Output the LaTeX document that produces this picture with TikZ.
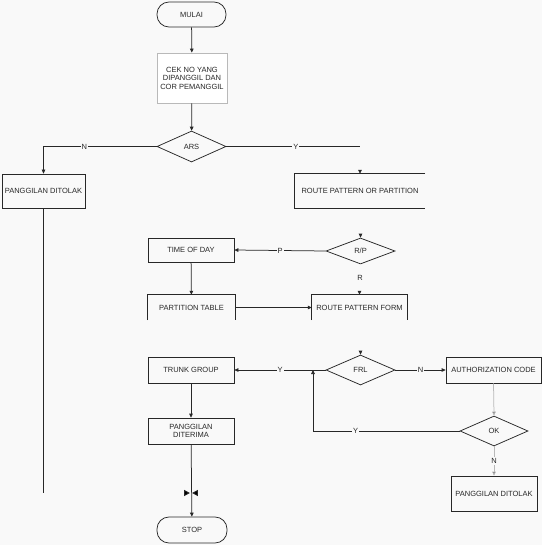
\documentclass[tikz,border=0pt]{standalone}
\usepackage{fontspec}
\setmainfont{Liberation Sans}
\usetikzlibrary{shapes.geometric,arrows.meta,calc}
\definecolor{bg}{RGB}{249,249,249}
\definecolor{ln}{RGB}{40,40,40}
\definecolor{lg}{RGB}{185,185,185}
\begin{document}
\begin{tikzpicture}[x=1pt,y=-1pt,
  every node/.style={font=\fontsize{7.5}{8.5}\selectfont, text=ln},
  arr/.style={draw=ln, line width=0.75pt, -{Triangle[width=3.6pt,length=4pt]}},
  ln/.style={draw=ln, line width=0.75pt},
  lgarr/.style={draw=lg, line width=0.75pt, -{Triangle[width=3.6pt,length=4pt,fill=ln]}},
  boxx/.style={draw=ln, line width=0.75pt, rectangle, inner sep=1pt, align=center},
  openbox/.style={rectangle, inner sep=1pt, align=center},
  term/.style={draw=ln, line width=0.75pt, rectangle, rounded corners=12pt, minimum width=69pt, minimum height=25pt},
  dec/.style={draw=ln, line width=0.75pt, diamond, aspect=2.3, inner sep=0pt},
  lab/.style={fill=bg, inner sep=1pt}
]
\fill[bg] (0,0) rectangle (542,545);
\useasboundingbox (0,0) rectangle (542,545);

% nodes
\node[term] (mulai) at (191.5,14.5) {MULAI};
\node[draw=lg, line width=0.75pt, rectangle, minimum width=70pt, minimum height=50pt, align=center, fill=white] (cek) at (192,78)
  {CEK NO YANG\\DIPANGGIL DAN\\COR PEMANGGIL};
\node[dec, minimum width=69pt, minimum height=31pt] (ars) at (191.5,146.5) {ARS};
\node[boxx, minimum width=83pt, minimum height=34pt] (tolak1) at (43.5,191) {PANGGILAN DITOLAK};
\node[openbox, minimum width=130pt, minimum height=34pt] (route1) at (360,191) {ROUTE PATTERN OR PARTITION};
\node[dec, minimum width=69pt, minimum height=26pt] (rp) at (360.5,251) {R/P};
\node[boxx, minimum width=86pt, minimum height=24pt] (tod) at (191,250) {TIME OF DAY};
\node[openbox, minimum width=87pt, minimum height=25pt] (part) at (191.5,307.5) {PARTITION TABLE};
\node[openbox, minimum width=95pt, minimum height=25pt] (rpf) at (359.5,307.5) {ROUTE PATTERN FORM};
\node[boxx, minimum width=86pt, minimum height=26pt] (trunk) at (191,370) {TRUNK GROUP};
\node[dec, minimum width=69pt, minimum height=30pt] (frl) at (360.5,370) {FRL};
\node[boxx, minimum width=95pt, minimum height=26pt] (auth) at (493.5,370) {AUTHORIZATION CODE};
\node[dec, minimum width=68pt, minimum height=30pt] (ok) at (494,431) {OK};
\node[boxx, minimum width=86pt, minimum height=35pt] (tolak2) at (494,493.5) {PANGGILAN DITOLAK};
\node[boxx, minimum width=86pt, minimum height=26pt] (terima) at (191,431) {PANGGILAN\\DITERIMA};
\node[term, minimum width=70pt, minimum height=26pt] (stop) at (192,530) {STOP};

% open boxes
\draw[ln] (route1.north east) -- (route1.north west) -- (route1.south west) -- (route1.south east);
\draw[ln] (part.south west) -- (part.north west) -- (part.north east) -- (part.south east);
\draw[ln] (rpf.south west) -- (rpf.north west) -- (rpf.north east) -- (rpf.south east);

% coordinates
\coordinate (c1) at (360,146.5);
\coordinate (c2) at (43.5,493);
\coordinate (c3) at (313,431);
\coordinate (c4) at (313,370);

% connectors
\draw[arr] (mulai) -- (cek);
\draw[arr] (cek) -- (ars);
\draw[arr] (ars.west) -| node[lab, pos=0.32] {N} (tolak1.north);
\draw[ln] (ars.east) -- node[lab, pos=0.52] {Y} (c1);
\draw[arr] ($(route1.north)+(0,-3)$) -- (route1.north);
\draw[ln] (tolak1.south) -- (c2);
\draw[arr] ($(rp.north)+(0,-3)$) -- (rp.north);
\draw[arr] (rp.west) -- node[lab, pos=0.5] {P} (tod.east);
\node (rlab) at (360,278) {R};
\draw[arr] ($(rpf.north)+(0,-3)$) -- (rpf.north);
\draw[arr] (tod) -- (part);
\draw[arr] (part.east) -- (rpf.west);
\draw[arr] ($(frl.north)+(0,-3)$) -- (frl.north);
\draw[arr] (frl.west) -- node[lab, pos=0.5] {Y} (trunk.east);
\draw[arr] (frl.east) -- node[lab, pos=0.5] {N} (auth.west);
\draw[lgarr] (auth.south) -- (ok.north);
\draw[ln] (ok.west) -- node[lab, pos=0.71] {Y} (c3);
\draw[arr] (c3) -- (c4);
\draw[lgarr] (ok.south) -- node[lab, pos=0.5] {N} (tolak2.north);
\draw[arr] (trunk) -- (terima);
\draw[arr] (terima) -- (stop);

% bow-tie marks
\fill[ln] (184.5,490.5) -- (189,493) -- (184.5,495.5) -- cycle;
\fill[ln] (197.5,490.5) -- (193,493) -- (197.5,495.5) -- cycle;
\end{tikzpicture}
\end{document}
